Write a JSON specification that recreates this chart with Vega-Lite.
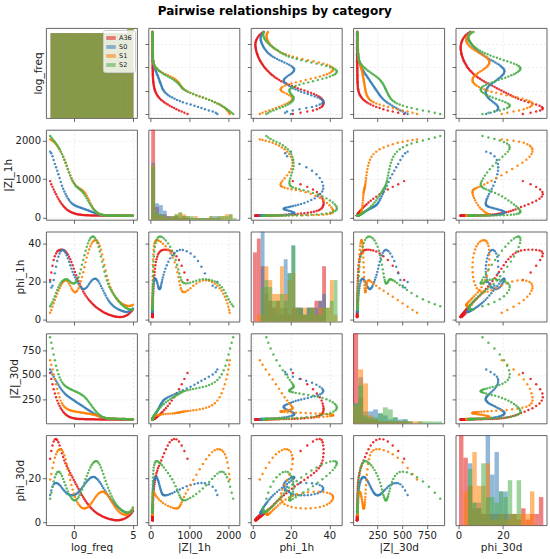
{
  "$schema": "https://vega.github.io/schema/vega-lite/v6.json",
  "title": {"text": "Pairwise relationships by category", "font": "DejaVu Sans", "fontSize": 12, "fontWeight": "bold", "color": "#000000", "anchor": "middle", "offset": 10},
  "padding": {"left": 2, "top": 4, "right": 4, "bottom": 3},
  "data": {"values": [
    {"g":"A36","f":-2,"z1":950,"p1":21,"z3":520,"p3":29},
    {"g":"A36","f":-1.9,"z1":870,"p1":25,"z3":460,"p3":32.5},
    {"g":"A36","f":-1.8,"z1":800,"p1":28.5,"z3":405,"p3":35},
    {"g":"A36","f":-1.7,"z1":730,"p1":31.5,"z3":355,"p3":36.8},
    {"g":"A36","f":-1.6,"z1":665,"p1":33.5,"z3":310,"p3":37.8},
    {"g":"A36","f":-1.5,"z1":605,"p1":35,"z3":272,"p3":38},
    {"g":"A36","f":-1.4,"z1":545,"p1":36,"z3":238,"p3":37.5},
    {"g":"A36","f":-1.3,"z1":490,"p1":36.5,"z3":208,"p3":36.5},
    {"g":"A36","f":-1.2,"z1":440,"p1":36.8,"z3":182,"p3":35},
    {"g":"A36","f":-1.1,"z1":392,"p1":37,"z3":160,"p3":33.3},
    {"g":"A36","f":-1,"z1":348,"p1":37,"z3":141,"p3":31.5},
    {"g":"A36","f":-0.9,"z1":308,"p1":36.8,"z3":125,"p3":29.8},
    {"g":"A36","f":-0.8,"z1":272,"p1":36.5,"z3":111,"p3":28.2},
    {"g":"A36","f":-0.7,"z1":240,"p1":36,"z3":99,"p3":26.9},
    {"g":"A36","f":-0.6,"z1":212,"p1":35.3,"z3":89,"p3":25.7},
    {"g":"A36","f":-0.5,"z1":188,"p1":34.5,"z3":81,"p3":24.6},
    {"g":"A36","f":-0.4,"z1":168,"p1":33.3,"z3":74,"p3":23.5},
    {"g":"A36","f":-0.3,"z1":150,"p1":32,"z3":68,"p3":22.5},
    {"g":"A36","f":-0.2,"z1":135,"p1":30.5,"z3":64,"p3":21.4},
    {"g":"A36","f":-0.1,"z1":122,"p1":28.8,"z3":60,"p3":20.4},
    {"g":"A36","f":0,"z1":111,"p1":27,"z3":57,"p3":19.3},
    {"g":"A36","f":0.1,"z1":102,"p1":25.2,"z3":55,"p3":18.3},
    {"g":"A36","f":0.2,"z1":94,"p1":23.5,"z3":53,"p3":17.3},
    {"g":"A36","f":0.3,"z1":87,"p1":22,"z3":52,"p3":16.3},
    {"g":"A36","f":0.4,"z1":81,"p1":20.5,"z3":51,"p3":15.3},
    {"g":"A36","f":0.5,"z1":76,"p1":19,"z3":50,"p3":14.3},
    {"g":"A36","f":0.6,"z1":72,"p1":17.6,"z3":49,"p3":13.3},
    {"g":"A36","f":0.7,"z1":68,"p1":16.3,"z3":49,"p3":12.3},
    {"g":"A36","f":0.8,"z1":65,"p1":15,"z3":49,"p3":11.4},
    {"g":"A36","f":0.9,"z1":62,"p1":13.9,"z3":48,"p3":10.5},
    {"g":"A36","f":1,"z1":60,"p1":12.9,"z3":48,"p3":9.7},
    {"g":"A36","f":1.1,"z1":58,"p1":12,"z3":48,"p3":8.9},
    {"g":"A36","f":1.2,"z1":57,"p1":11.2,"z3":48,"p3":8.2},
    {"g":"A36","f":1.3,"z1":56,"p1":10.4,"z3":47,"p3":7.5},
    {"g":"A36","f":1.4,"z1":55,"p1":9.7,"z3":47,"p3":6.9},
    {"g":"A36","f":1.5,"z1":54,"p1":9,"z3":47,"p3":6.3},
    {"g":"A36","f":1.6,"z1":53,"p1":8.4,"z3":47,"p3":5.8},
    {"g":"A36","f":1.7,"z1":52,"p1":7.8,"z3":47,"p3":5.3},
    {"g":"A36","f":1.8,"z1":52,"p1":7.2,"z3":46,"p3":4.8},
    {"g":"A36","f":1.9,"z1":51,"p1":6.7,"z3":46,"p3":4.4},
    {"g":"A36","f":2,"z1":51,"p1":6.2,"z3":46,"p3":4},
    {"g":"A36","f":2.1,"z1":50,"p1":5.7,"z3":46,"p3":3.7},
    {"g":"A36","f":2.2,"z1":50,"p1":5.3,"z3":46,"p3":3.4},
    {"g":"A36","f":2.3,"z1":50,"p1":4.9,"z3":46,"p3":3.1},
    {"g":"A36","f":2.4,"z1":50,"p1":4.5,"z3":45,"p3":2.8},
    {"g":"A36","f":2.5,"z1":50,"p1":4.1,"z3":45,"p3":2.5},
    {"g":"A36","f":2.6,"z1":49,"p1":3.8,"z3":45,"p3":2.3},
    {"g":"A36","f":2.7,"z1":49,"p1":3.5,"z3":45,"p3":2.1},
    {"g":"A36","f":2.8,"z1":49,"p1":3.2,"z3":45,"p3":1.9},
    {"g":"A36","f":2.9,"z1":49,"p1":2.9,"z3":45,"p3":1.7},
    {"g":"A36","f":3,"z1":48,"p1":2.7,"z3":45,"p3":1.5},
    {"g":"A36","f":3.1,"z1":48,"p1":2.5,"z3":45,"p3":1.4},
    {"g":"A36","f":3.2,"z1":48,"p1":2.3,"z3":45,"p3":1.3},
    {"g":"A36","f":3.3,"z1":48,"p1":2.1,"z3":45,"p3":1.2},
    {"g":"A36","f":3.4,"z1":48,"p1":1.9,"z3":45,"p3":1.1},
    {"g":"A36","f":3.5,"z1":48,"p1":1.8,"z3":45,"p3":1},
    {"g":"A36","f":3.6,"z1":47,"p1":1.7,"z3":44,"p3":1},
    {"g":"A36","f":3.7,"z1":47,"p1":1.6,"z3":44,"p3":1},
    {"g":"A36","f":3.8,"z1":47,"p1":1.5,"z3":44,"p3":1},
    {"g":"A36","f":3.9,"z1":47,"p1":1.5,"z3":44,"p3":1.1},
    {"g":"A36","f":4,"z1":47,"p1":1.5,"z3":44,"p3":1.2},
    {"g":"A36","f":4.1,"z1":47,"p1":1.6,"z3":44,"p3":1.3},
    {"g":"A36","f":4.2,"z1":46,"p1":1.7,"z3":44,"p3":1.5},
    {"g":"A36","f":4.3,"z1":46,"p1":1.9,"z3":44,"p3":1.7},
    {"g":"A36","f":4.4,"z1":46,"p1":2.2,"z3":44,"p3":2},
    {"g":"A36","f":4.5,"z1":46,"p1":2.5,"z3":44,"p3":2.3},
    {"g":"A36","f":4.6,"z1":46,"p1":2.9,"z3":44,"p3":2.7},
    {"g":"A36","f":4.7,"z1":46,"p1":3.4,"z3":44,"p3":3.1},
    {"g":"A36","f":4.8,"z1":46,"p1":4,"z3":44,"p3":3.6},
    {"g":"A36","f":4.9,"z1":46,"p1":4.7,"z3":44,"p3":4.3},
    {"g":"A36","f":5,"z1":46,"p1":5.4,"z3":44,"p3":5.1},
    {"g":"S0","f":-2,"z1":1720,"p1":20,"z3":555,"p3":12.5},
    {"g":"S0","f":-1.9,"z1":1680,"p1":17,"z3":530,"p3":14.5},
    {"g":"S0","f":-1.8,"z1":1600,"p1":18,"z3":505,"p3":16.2},
    {"g":"S0","f":-1.7,"z1":1500,"p1":21,"z3":482,"p3":17.3},
    {"g":"S0","f":-1.6,"z1":1400,"p1":24.5,"z3":460,"p3":17.8},
    {"g":"S0","f":-1.5,"z1":1310,"p1":28,"z3":440,"p3":17.9},
    {"g":"S0","f":-1.4,"z1":1220,"p1":31,"z3":420,"p3":17.8},
    {"g":"S0","f":-1.3,"z1":1130,"p1":33.3,"z3":400,"p3":17.5},
    {"g":"S0","f":-1.2,"z1":1030,"p1":35,"z3":380,"p3":17},
    {"g":"S0","f":-1.1,"z1":930,"p1":36.2,"z3":362,"p3":16.4},
    {"g":"S0","f":-1,"z1":830,"p1":36.8,"z3":345,"p3":15.7},
    {"g":"S0","f":-0.9,"z1":750,"p1":36.8,"z3":330,"p3":15},
    {"g":"S0","f":-0.8,"z1":680,"p1":36.3,"z3":316,"p3":14.4},
    {"g":"S0","f":-0.7,"z1":615,"p1":35.3,"z3":304,"p3":13.8},
    {"g":"S0","f":-0.6,"z1":555,"p1":34,"z3":293,"p3":13.3},
    {"g":"S0","f":-0.5,"z1":500,"p1":32.4,"z3":283,"p3":12.9},
    {"g":"S0","f":-0.4,"z1":455,"p1":30.6,"z3":274,"p3":12.6},
    {"g":"S0","f":-0.3,"z1":415,"p1":28.8,"z3":265,"p3":12.4},
    {"g":"S0","f":-0.2,"z1":380,"p1":27,"z3":257,"p3":12.3},
    {"g":"S0","f":-0.1,"z1":355,"p1":25.3,"z3":249,"p3":12.3},
    {"g":"S0","f":0,"z1":333,"p1":23.8,"z3":241,"p3":12.4},
    {"g":"S0","f":0.1,"z1":315,"p1":22.4,"z3":233,"p3":12.6},
    {"g":"S0","f":0.2,"z1":300,"p1":21.1,"z3":225,"p3":12.9},
    {"g":"S0","f":0.3,"z1":288,"p1":20,"z3":217,"p3":13.3},
    {"g":"S0","f":0.4,"z1":276,"p1":19,"z3":209,"p3":13.8},
    {"g":"S0","f":0.5,"z1":265,"p1":18,"z3":201,"p3":14.4},
    {"g":"S0","f":0.6,"z1":254,"p1":17.2,"z3":193,"p3":15.1},
    {"g":"S0","f":0.7,"z1":243,"p1":16.6,"z3":185,"p3":15.8},
    {"g":"S0","f":0.8,"z1":232,"p1":16.3,"z3":177,"p3":16.5},
    {"g":"S0","f":0.9,"z1":221,"p1":16.3,"z3":169,"p3":17.2},
    {"g":"S0","f":1,"z1":210,"p1":16.6,"z3":161,"p3":17.9},
    {"g":"S0","f":1.1,"z1":199,"p1":17.2,"z3":153,"p3":18.6},
    {"g":"S0","f":1.2,"z1":188,"p1":18,"z3":145,"p3":19.2},
    {"g":"S0","f":1.3,"z1":176,"p1":18.9,"z3":137,"p3":19.7},
    {"g":"S0","f":1.4,"z1":164,"p1":19.8,"z3":129,"p3":20.2},
    {"g":"S0","f":1.5,"z1":152,"p1":20.6,"z3":121,"p3":20.5},
    {"g":"S0","f":1.6,"z1":140,"p1":21.2,"z3":113,"p3":20.7},
    {"g":"S0","f":1.7,"z1":128,"p1":21.6,"z3":106,"p3":20.7},
    {"g":"S0","f":1.8,"z1":116,"p1":21.7,"z3":99,"p3":20.5},
    {"g":"S0","f":1.9,"z1":104,"p1":21.5,"z3":92,"p3":20.1},
    {"g":"S0","f":2,"z1":93,"p1":21,"z3":86,"p3":19.6},
    {"g":"S0","f":2.1,"z1":84,"p1":20.2,"z3":80,"p3":19},
    {"g":"S0","f":2.2,"z1":76,"p1":19.1,"z3":75,"p3":18.3},
    {"g":"S0","f":2.3,"z1":69,"p1":17.9,"z3":71,"p3":17.5},
    {"g":"S0","f":2.4,"z1":64,"p1":16.6,"z3":67,"p3":16.6},
    {"g":"S0","f":2.5,"z1":60,"p1":15.3,"z3":64,"p3":15.7},
    {"g":"S0","f":2.6,"z1":57,"p1":14,"z3":61,"p3":14.8},
    {"g":"S0","f":2.7,"z1":55,"p1":12.8,"z3":59,"p3":13.9},
    {"g":"S0","f":2.8,"z1":54,"p1":11.6,"z3":57,"p3":13},
    {"g":"S0","f":2.9,"z1":53,"p1":10.6,"z3":56,"p3":12.2},
    {"g":"S0","f":3,"z1":52,"p1":9.7,"z3":55,"p3":11.4},
    {"g":"S0","f":3.1,"z1":52,"p1":8.9,"z3":54,"p3":10.6},
    {"g":"S0","f":3.2,"z1":51,"p1":8.2,"z3":53,"p3":9.9},
    {"g":"S0","f":3.3,"z1":51,"p1":7.6,"z3":53,"p3":9.2},
    {"g":"S0","f":3.4,"z1":51,"p1":7.1,"z3":52,"p3":8.6},
    {"g":"S0","f":3.5,"z1":50,"p1":6.6,"z3":52,"p3":8},
    {"g":"S0","f":3.6,"z1":50,"p1":6.2,"z3":51,"p3":7.5},
    {"g":"S0","f":3.7,"z1":50,"p1":5.8,"z3":51,"p3":7},
    {"g":"S0","f":3.8,"z1":50,"p1":5.5,"z3":50,"p3":6.5},
    {"g":"S0","f":3.9,"z1":49,"p1":5.2,"z3":50,"p3":6.1},
    {"g":"S0","f":4,"z1":49,"p1":4.9,"z3":50,"p3":5.7},
    {"g":"S0","f":4.1,"z1":49,"p1":4.7,"z3":49,"p3":5.3},
    {"g":"S0","f":4.2,"z1":49,"p1":4.5,"z3":49,"p3":5},
    {"g":"S0","f":4.3,"z1":48,"p1":4.3,"z3":49,"p3":4.7},
    {"g":"S0","f":4.4,"z1":48,"p1":4.2,"z3":48,"p3":4.4},
    {"g":"S0","f":4.5,"z1":48,"p1":4.2,"z3":48,"p3":4.2},
    {"g":"S0","f":4.6,"z1":48,"p1":4.3,"z3":48,"p3":4.1},
    {"g":"S0","f":4.7,"z1":47,"p1":4.5,"z3":47,"p3":4.1},
    {"g":"S0","f":4.8,"z1":47,"p1":4.9,"z3":47,"p3":4.3},
    {"g":"S0","f":4.9,"z1":47,"p1":5.4,"z3":47,"p3":4.7},
    {"g":"S0","f":5,"z1":47,"p1":6,"z3":47,"p3":5.3},
    {"g":"S1","f":-2,"z1":2040,"p1":3.8,"z3":650,"p3":19.5},
    {"g":"S1","f":-1.9,"z1":2025,"p1":5.2,"z3":605,"p3":22},
    {"g":"S1","f":-1.8,"z1":2005,"p1":6.9,"z3":555,"p3":24.8},
    {"g":"S1","f":-1.7,"z1":1980,"p1":8.7,"z3":505,"p3":27.3},
    {"g":"S1","f":-1.6,"z1":1950,"p1":10.5,"z3":455,"p3":29.4},
    {"g":"S1","f":-1.5,"z1":1915,"p1":12.2,"z3":405,"p3":31},
    {"g":"S1","f":-1.4,"z1":1875,"p1":13.8,"z3":358,"p3":32.2},
    {"g":"S1","f":-1.3,"z1":1830,"p1":15.3,"z3":313,"p3":32.9},
    {"g":"S1","f":-1.2,"z1":1780,"p1":16.7,"z3":272,"p3":33.3},
    {"g":"S1","f":-1.1,"z1":1720,"p1":18,"z3":238,"p3":33.3},
    {"g":"S1","f":-1,"z1":1655,"p1":19.1,"z3":210,"p3":32.9},
    {"g":"S1","f":-0.9,"z1":1585,"p1":20,"z3":190,"p3":32},
    {"g":"S1","f":-0.8,"z1":1510,"p1":20.6,"z3":175,"p3":30.6},
    {"g":"S1","f":-0.7,"z1":1430,"p1":20.9,"z3":164,"p3":28.8},
    {"g":"S1","f":-0.6,"z1":1350,"p1":20.8,"z3":156,"p3":26.6},
    {"g":"S1","f":-0.5,"z1":1265,"p1":20.2,"z3":149,"p3":24.2},
    {"g":"S1","f":-0.4,"z1":1180,"p1":19.2,"z3":143,"p3":21.7},
    {"g":"S1","f":-0.3,"z1":1100,"p1":18,"z3":139,"p3":19.3},
    {"g":"S1","f":-0.2,"z1":1025,"p1":16.7,"z3":135,"p3":17},
    {"g":"S1","f":-0.1,"z1":960,"p1":15.6,"z3":132,"p3":14.9},
    {"g":"S1","f":0,"z1":905,"p1":14.9,"z3":129,"p3":13.1},
    {"g":"S1","f":0.1,"z1":860,"p1":14.6,"z3":127,"p3":11.6},
    {"g":"S1","f":0.2,"z1":825,"p1":14.8,"z3":125,"p3":10.3},
    {"g":"S1","f":0.3,"z1":800,"p1":15.5,"z3":123,"p3":9.2},
    {"g":"S1","f":0.4,"z1":778,"p1":16.7,"z3":121,"p3":8.3},
    {"g":"S1","f":0.5,"z1":758,"p1":18.3,"z3":119,"p3":7.6},
    {"g":"S1","f":0.6,"z1":738,"p1":20.3,"z3":117,"p3":7},
    {"g":"S1","f":0.7,"z1":716,"p1":22.6,"z3":115,"p3":6.6},
    {"g":"S1","f":0.8,"z1":690,"p1":25.1,"z3":113,"p3":6.4},
    {"g":"S1","f":0.9,"z1":658,"p1":27.7,"z3":111,"p3":6.3},
    {"g":"S1","f":1,"z1":618,"p1":30.3,"z3":109,"p3":6.4},
    {"g":"S1","f":1.1,"z1":570,"p1":32.8,"z3":107,"p3":6.6},
    {"g":"S1","f":1.2,"z1":512,"p1":35.1,"z3":105,"p3":7},
    {"g":"S1","f":1.3,"z1":448,"p1":37.1,"z3":103,"p3":7.5},
    {"g":"S1","f":1.4,"z1":382,"p1":38.8,"z3":101,"p3":8.1},
    {"g":"S1","f":1.5,"z1":318,"p1":40.1,"z3":99,"p3":8.8},
    {"g":"S1","f":1.6,"z1":262,"p1":41.1,"z3":96,"p3":9.6},
    {"g":"S1","f":1.7,"z1":214,"p1":41.7,"z3":93,"p3":10.4},
    {"g":"S1","f":1.8,"z1":175,"p1":42,"z3":90,"p3":11.2},
    {"g":"S1","f":1.9,"z1":143,"p1":41.9,"z3":87,"p3":11.9},
    {"g":"S1","f":2,"z1":118,"p1":41.4,"z3":84,"p3":12.6},
    {"g":"S1","f":2.1,"z1":99,"p1":40.4,"z3":80,"p3":13.1},
    {"g":"S1","f":2.2,"z1":85,"p1":38.9,"z3":76,"p3":13.5},
    {"g":"S1","f":2.3,"z1":75,"p1":36.9,"z3":72,"p3":13.8},
    {"g":"S1","f":2.4,"z1":68,"p1":34.5,"z3":68,"p3":13.9},
    {"g":"S1","f":2.5,"z1":63,"p1":31.8,"z3":65,"p3":13.9},
    {"g":"S1","f":2.6,"z1":60,"p1":28.9,"z3":62,"p3":13.7},
    {"g":"S1","f":2.7,"z1":58,"p1":26,"z3":59,"p3":13.3},
    {"g":"S1","f":2.8,"z1":57,"p1":23.2,"z3":57,"p3":12.8},
    {"g":"S1","f":2.9,"z1":56,"p1":21,"z3":56,"p3":12.1},
    {"g":"S1","f":3,"z1":55,"p1":19,"z3":55,"p3":11.3},
    {"g":"S1","f":3.1,"z1":54,"p1":17.2,"z3":54,"p3":10.4},
    {"g":"S1","f":3.2,"z1":54,"p1":15.7,"z3":54,"p3":9.5},
    {"g":"S1","f":3.3,"z1":53,"p1":14.4,"z3":53,"p3":8.6},
    {"g":"S1","f":3.4,"z1":53,"p1":13.3,"z3":53,"p3":7.7},
    {"g":"S1","f":3.5,"z1":52,"p1":12.3,"z3":52,"p3":6.9},
    {"g":"S1","f":3.6,"z1":52,"p1":11.4,"z3":52,"p3":6.2},
    {"g":"S1","f":3.7,"z1":51,"p1":10.7,"z3":51,"p3":5.6},
    {"g":"S1","f":3.8,"z1":51,"p1":10,"z3":51,"p3":5},
    {"g":"S1","f":3.9,"z1":51,"p1":9.4,"z3":50,"p3":4.5},
    {"g":"S1","f":4,"z1":50,"p1":8.9,"z3":50,"p3":4.1},
    {"g":"S1","f":4.1,"z1":50,"p1":8.5,"z3":50,"p3":3.8},
    {"g":"S1","f":4.2,"z1":50,"p1":8.1,"z3":49,"p3":3.6},
    {"g":"S1","f":4.3,"z1":49,"p1":7.8,"z3":49,"p3":3.5},
    {"g":"S1","f":4.4,"z1":49,"p1":7.6,"z3":49,"p3":3.5},
    {"g":"S1","f":4.5,"z1":49,"p1":7.4,"z3":48,"p3":3.6},
    {"g":"S1","f":4.6,"z1":49,"p1":7.3,"z3":48,"p3":3.8},
    {"g":"S1","f":4.7,"z1":48,"p1":7.3,"z3":48,"p3":4.2},
    {"g":"S1","f":4.8,"z1":48,"p1":7.4,"z3":48,"p3":4.7},
    {"g":"S1","f":4.9,"z1":48,"p1":7.6,"z3":47,"p3":5.3},
    {"g":"S1","f":5,"z1":48,"p1":8,"z3":47,"p3":6},
    {"g":"S2","f":-2,"z1":2130,"p1":7.2,"z3":885,"p3":10.8},
    {"g":"S2","f":-1.9,"z1":2090,"p1":8.2,"z3":830,"p3":13.5},
    {"g":"S2","f":-1.8,"z1":2050,"p1":9.4,"z3":770,"p3":16.2},
    {"g":"S2","f":-1.7,"z1":2010,"p1":10.9,"z3":710,"p3":18.6},
    {"g":"S2","f":-1.6,"z1":1970,"p1":12.5,"z3":650,"p3":20.5},
    {"g":"S2","f":-1.5,"z1":1930,"p1":14.2,"z3":595,"p3":21.9},
    {"g":"S2","f":-1.4,"z1":1885,"p1":15.8,"z3":548,"p3":22.8},
    {"g":"S2","f":-1.3,"z1":1835,"p1":17.2,"z3":508,"p3":23.1},
    {"g":"S2","f":-1.2,"z1":1780,"p1":18.4,"z3":475,"p3":22.9},
    {"g":"S2","f":-1.1,"z1":1720,"p1":19.4,"z3":448,"p3":22.2},
    {"g":"S2","f":-1,"z1":1655,"p1":20.2,"z3":427,"p3":21.1},
    {"g":"S2","f":-0.9,"z1":1585,"p1":20.8,"z3":410,"p3":19.8},
    {"g":"S2","f":-0.8,"z1":1510,"p1":21.2,"z3":397,"p3":18.4},
    {"g":"S2","f":-0.7,"z1":1430,"p1":21.4,"z3":386,"p3":16.9},
    {"g":"S2","f":-0.6,"z1":1345,"p1":21.4,"z3":377,"p3":15.4},
    {"g":"S2","f":-0.5,"z1":1260,"p1":21.1,"z3":370,"p3":14.1},
    {"g":"S2","f":-0.4,"z1":1175,"p1":20.6,"z3":363,"p3":12.9},
    {"g":"S2","f":-0.3,"z1":1095,"p1":20.1,"z3":357,"p3":11.9},
    {"g":"S2","f":-0.2,"z1":1020,"p1":19.6,"z3":351,"p3":11.1},
    {"g":"S2","f":-0.1,"z1":955,"p1":19.3,"z3":345,"p3":10.5},
    {"g":"S2","f":0,"z1":900,"p1":19.2,"z3":340,"p3":10.1},
    {"g":"S2","f":0.1,"z1":855,"p1":19.4,"z3":334,"p3":10},
    {"g":"S2","f":0.2,"z1":818,"p1":20,"z3":329,"p3":10.2},
    {"g":"S2","f":0.3,"z1":790,"p1":21,"z3":323,"p3":10.7},
    {"g":"S2","f":0.4,"z1":765,"p1":22.5,"z3":317,"p3":11.4},
    {"g":"S2","f":0.5,"z1":740,"p1":24.4,"z3":311,"p3":12.4},
    {"g":"S2","f":0.6,"z1":712,"p1":26.6,"z3":304,"p3":13.6},
    {"g":"S2","f":0.7,"z1":680,"p1":29,"z3":296,"p3":15},
    {"g":"S2","f":0.8,"z1":643,"p1":31.5,"z3":287,"p3":16.5},
    {"g":"S2","f":0.9,"z1":600,"p1":34,"z3":277,"p3":18.1},
    {"g":"S2","f":1,"z1":552,"p1":36.4,"z3":265,"p3":19.6},
    {"g":"S2","f":1.1,"z1":500,"p1":38.5,"z3":252,"p3":21.1},
    {"g":"S2","f":1.2,"z1":446,"p1":40.3,"z3":237,"p3":22.5},
    {"g":"S2","f":1.3,"z1":392,"p1":41.8,"z3":221,"p3":23.8},
    {"g":"S2","f":1.4,"z1":340,"p1":42.9,"z3":204,"p3":25},
    {"g":"S2","f":1.5,"z1":292,"p1":43.6,"z3":187,"p3":26},
    {"g":"S2","f":1.6,"z1":249,"p1":43.9,"z3":170,"p3":26.8},
    {"g":"S2","f":1.7,"z1":211,"p1":43.8,"z3":154,"p3":27.4},
    {"g":"S2","f":1.8,"z1":178,"p1":43.2,"z3":139,"p3":27.8},
    {"g":"S2","f":1.9,"z1":150,"p1":42.1,"z3":125,"p3":27.9},
    {"g":"S2","f":2,"z1":127,"p1":40.5,"z3":112,"p3":27.7},
    {"g":"S2","f":2.1,"z1":107,"p1":38.4,"z3":100,"p3":27.1},
    {"g":"S2","f":2.2,"z1":91,"p1":36,"z3":90,"p3":26.2},
    {"g":"S2","f":2.3,"z1":79,"p1":33.4,"z3":81,"p3":25},
    {"g":"S2","f":2.4,"z1":70,"p1":30.7,"z3":74,"p3":23.6},
    {"g":"S2","f":2.5,"z1":64,"p1":28,"z3":68,"p3":22},
    {"g":"S2","f":2.6,"z1":60,"p1":25.4,"z3":63,"p3":20.4},
    {"g":"S2","f":2.7,"z1":58,"p1":23,"z3":60,"p3":18.8},
    {"g":"S2","f":2.8,"z1":56,"p1":20.8,"z3":58,"p3":17.3},
    {"g":"S2","f":2.9,"z1":55,"p1":18.9,"z3":56,"p3":15.8},
    {"g":"S2","f":3,"z1":54,"p1":17.5,"z3":55,"p3":14.4},
    {"g":"S2","f":3.1,"z1":53,"p1":16.3,"z3":54,"p3":13.1},
    {"g":"S2","f":3.2,"z1":53,"p1":15.2,"z3":53,"p3":11.9},
    {"g":"S2","f":3.3,"z1":52,"p1":14.2,"z3":53,"p3":10.8},
    {"g":"S2","f":3.4,"z1":52,"p1":13.2,"z3":52,"p3":9.8},
    {"g":"S2","f":3.5,"z1":51,"p1":12.3,"z3":52,"p3":8.9},
    {"g":"S2","f":3.6,"z1":51,"p1":11.4,"z3":51,"p3":8.1},
    {"g":"S2","f":3.7,"z1":51,"p1":10.6,"z3":51,"p3":7.4},
    {"g":"S2","f":3.8,"z1":50,"p1":9.8,"z3":50,"p3":6.8},
    {"g":"S2","f":3.9,"z1":50,"p1":9.1,"z3":50,"p3":6.3},
    {"g":"S2","f":4,"z1":50,"p1":8.4,"z3":50,"p3":5.8},
    {"g":"S2","f":4.1,"z1":49,"p1":7.8,"z3":49,"p3":5.4},
    {"g":"S2","f":4.2,"z1":49,"p1":7.3,"z3":49,"p3":5.1},
    {"g":"S2","f":4.3,"z1":49,"p1":6.8,"z3":49,"p3":4.8},
    {"g":"S2","f":4.4,"z1":49,"p1":6.4,"z3":48,"p3":4.6},
    {"g":"S2","f":4.5,"z1":48,"p1":6.1,"z3":48,"p3":4.5},
    {"g":"S2","f":4.6,"z1":48,"p1":5.8,"z3":48,"p3":4.5},
    {"g":"S2","f":4.7,"z1":48,"p1":5.6,"z3":48,"p3":4.7},
    {"g":"S2","f":4.8,"z1":48,"p1":5.5,"z3":47,"p3":5.1},
    {"g":"S2","f":4.9,"z1":47,"p1":5.5,"z3":47,"p3":5.8},
    {"g":"S2","f":5,"z1":47,"p1":5.6,"z3":47,"p3":6.8}
  ]},
  "columns": 5,
  "spacing": {"row": 11.8, "column": 11.4},
  "bounds": "flush",
  "resolve": {"scale": {"color": "independent"}, "legend": {"color": "independent"}},
  "concat": [
    {"mark": {"type": "bar", "opacity": 0.55, "binSpacing": 0, "clip": true},
     "encoding": {
       "x": {"field": "f", "type": "quantitative", "bin": {"step": 0.5}, "scale": {"domain": [-2.35, 5.35]}, "axis": {"values": [0, 5], "labels": false, "title": null}},
       "y": {"aggregate": "count", "type": "quantitative", "stack": null, "scale": {"domain": [0, 5.3]}, "axis": {"title": "log_freq", "labels": false, "ticks": false, "grid": false, "titlePadding": 3}},
       "color": {"field": "g", "type": "nominal", "legend": {"orient": "top-right", "title": null, "symbolType": "M-1,-0.4H1V0.4H-1Z", "symbolSize": 90, "symbolStrokeWidth": 0, "labelFont": "DejaVu Sans", "labelFontSize": 6.5, "labelColor": "#222222", "labelOffset": 3, "fillColor": "rgba(255,255,255,0.8)", "strokeColor": "#cccccc", "cornerRadius": 2, "padding": 3, "offset": 2, "rowPadding": 0}}}},
    {"mark": "circle",
     "encoding": {
       "x": {"field": "z1", "type": "quantitative", "scale": {"domain": [-60, 2290]}, "axis": {"values": [0, 1000, 2000], "labels": false, "title": null}},
       "y": {"field": "f", "type": "quantitative", "scale": {"domain": [-2.35, 5.35]}, "axis": {"values": [-2, 0, 2, 4], "labels": false, "title": null}},
       "color": {"field": "g", "type": "nominal", "legend": null}}},
    {"mark": "circle",
     "encoding": {
       "x": {"field": "p1", "type": "quantitative", "scale": {"domain": [-0.9, 46.5]}, "axis": {"values": [0, 20, 40], "labels": false, "title": null}},
       "y": {"field": "f", "type": "quantitative", "scale": {"domain": [-2.35, 5.35]}, "axis": {"values": [-2, 0, 2, 4], "labels": false, "title": null}},
       "color": {"field": "g", "type": "nominal", "legend": null}}},
    {"mark": "circle",
     "encoding": {
       "x": {"field": "z3", "type": "quantitative", "scale": {"domain": [5, 925]}, "axis": {"values": [250, 500, 750], "labels": false, "title": null}},
       "y": {"field": "f", "type": "quantitative", "scale": {"domain": [-2.35, 5.35]}, "axis": {"values": [-2, 0, 2, 4], "labels": false, "title": null}},
       "color": {"field": "g", "type": "nominal", "legend": null}}},
    {"mark": "circle",
     "encoding": {
       "x": {"field": "p3", "type": "quantitative", "scale": {"domain": [-1.3, 39.7]}, "axis": {"values": [0, 20], "labels": false, "title": null}},
       "y": {"field": "f", "type": "quantitative", "scale": {"domain": [-2.35, 5.35]}, "axis": {"values": [-2, 0, 2, 4], "labels": false, "title": null}},
       "color": {"field": "g", "type": "nominal", "legend": null}}},

    {"mark": "circle",
     "encoding": {
       "x": {"field": "f", "type": "quantitative", "scale": {"domain": [-2.35, 5.35]}, "axis": {"values": [0, 5], "labels": false, "title": null}},
       "y": {"field": "z1", "type": "quantitative", "scale": {"domain": [-60, 2290]}, "axis": {"values": [0, 1000, 2000], "title": "|Z|_1h"}},
       "color": {"field": "g", "type": "nominal", "legend": null}}},
    {"mark": {"type": "bar", "opacity": 0.55, "binSpacing": 0},
     "encoding": {
       "x": {"field": "z1", "type": "quantitative", "bin": {"maxbins": 25}, "scale": {"domain": [-60, 2290]}, "axis": {"values": [0, 1000, 2000], "labels": false, "title": null}},
       "y": {"aggregate": "count", "type": "quantitative", "stack": null, "scale": {"nice": false}, "axis": null},
       "color": {"field": "g", "type": "nominal", "legend": null}}},
    {"mark": "circle",
     "encoding": {
       "x": {"field": "p1", "type": "quantitative", "scale": {"domain": [-0.9, 46.5]}, "axis": {"values": [0, 20, 40], "labels": false, "title": null}},
       "y": {"field": "z1", "type": "quantitative", "scale": {"domain": [-60, 2290]}, "axis": {"values": [0, 1000, 2000], "labels": false, "title": null}},
       "color": {"field": "g", "type": "nominal", "legend": null}}},
    {"mark": "circle",
     "encoding": {
       "x": {"field": "z3", "type": "quantitative", "scale": {"domain": [5, 925]}, "axis": {"values": [250, 500, 750], "labels": false, "title": null}},
       "y": {"field": "z1", "type": "quantitative", "scale": {"domain": [-60, 2290]}, "axis": {"values": [0, 1000, 2000], "labels": false, "title": null}},
       "color": {"field": "g", "type": "nominal", "legend": null}}},
    {"mark": "circle",
     "encoding": {
       "x": {"field": "p3", "type": "quantitative", "scale": {"domain": [-1.3, 39.7]}, "axis": {"values": [0, 20], "labels": false, "title": null}},
       "y": {"field": "z1", "type": "quantitative", "scale": {"domain": [-60, 2290]}, "axis": {"values": [0, 1000, 2000], "labels": false, "title": null}},
       "color": {"field": "g", "type": "nominal", "legend": null}}},

    {"mark": "circle",
     "encoding": {
       "x": {"field": "f", "type": "quantitative", "scale": {"domain": [-2.35, 5.35]}, "axis": {"values": [0, 5], "labels": false, "title": null}},
       "y": {"field": "p1", "type": "quantitative", "scale": {"domain": [-0.9, 46.5]}, "axis": {"values": [0, 20, 40], "title": "phi_1h"}},
       "color": {"field": "g", "type": "nominal", "legend": null}}},
    {"mark": "circle",
     "encoding": {
       "x": {"field": "z1", "type": "quantitative", "scale": {"domain": [-60, 2290]}, "axis": {"values": [0, 1000, 2000], "labels": false, "title": null}},
       "y": {"field": "p1", "type": "quantitative", "scale": {"domain": [-0.9, 46.5]}, "axis": {"values": [0, 20, 40], "labels": false, "title": null}},
       "color": {"field": "g", "type": "nominal", "legend": null}}},
    {"mark": {"type": "bar", "opacity": 0.55, "binSpacing": 0},
     "encoding": {
       "x": {"field": "p1", "type": "quantitative", "bin": {"maxbins": 25}, "scale": {"domain": [-0.9, 46.5]}, "axis": {"values": [0, 20, 40], "labels": false, "title": null}},
       "y": {"aggregate": "count", "type": "quantitative", "stack": null, "scale": {"nice": false}, "axis": null},
       "color": {"field": "g", "type": "nominal", "legend": null}}},
    {"mark": "circle",
     "encoding": {
       "x": {"field": "z3", "type": "quantitative", "scale": {"domain": [5, 925]}, "axis": {"values": [250, 500, 750], "labels": false, "title": null}},
       "y": {"field": "p1", "type": "quantitative", "scale": {"domain": [-0.9, 46.5]}, "axis": {"values": [0, 20, 40], "labels": false, "title": null}},
       "color": {"field": "g", "type": "nominal", "legend": null}}},
    {"mark": "circle",
     "encoding": {
       "x": {"field": "p3", "type": "quantitative", "scale": {"domain": [-1.3, 39.7]}, "axis": {"values": [0, 20], "labels": false, "title": null}},
       "y": {"field": "p1", "type": "quantitative", "scale": {"domain": [-0.9, 46.5]}, "axis": {"values": [0, 20, 40], "labels": false, "title": null}},
       "color": {"field": "g", "type": "nominal", "legend": null}}},

    {"mark": "circle",
     "encoding": {
       "x": {"field": "f", "type": "quantitative", "scale": {"domain": [-2.35, 5.35]}, "axis": {"values": [0, 5], "labels": false, "title": null}},
       "y": {"field": "z3", "type": "quantitative", "scale": {"domain": [5, 925]}, "axis": {"values": [250, 500, 750], "title": "|Z|_30d"}},
       "color": {"field": "g", "type": "nominal", "legend": null}}},
    {"mark": "circle",
     "encoding": {
       "x": {"field": "z1", "type": "quantitative", "scale": {"domain": [-60, 2290]}, "axis": {"values": [0, 1000, 2000], "labels": false, "title": null}},
       "y": {"field": "z3", "type": "quantitative", "scale": {"domain": [5, 925]}, "axis": {"values": [250, 500, 750], "labels": false, "title": null}},
       "color": {"field": "g", "type": "nominal", "legend": null}}},
    {"mark": "circle",
     "encoding": {
       "x": {"field": "p1", "type": "quantitative", "scale": {"domain": [-0.9, 46.5]}, "axis": {"values": [0, 20, 40], "labels": false, "title": null}},
       "y": {"field": "z3", "type": "quantitative", "scale": {"domain": [5, 925]}, "axis": {"values": [250, 500, 750], "labels": false, "title": null}},
       "color": {"field": "g", "type": "nominal", "legend": null}}},
    {"mark": {"type": "bar", "opacity": 0.55, "binSpacing": 0},
     "encoding": {
       "x": {"field": "z3", "type": "quantitative", "bin": {"maxbins": 25}, "scale": {"domain": [5, 925]}, "axis": {"values": [250, 500, 750], "labels": false, "title": null}},
       "y": {"aggregate": "count", "type": "quantitative", "stack": null, "scale": {"nice": false}, "axis": null},
       "color": {"field": "g", "type": "nominal", "legend": null}}},
    {"mark": "circle",
     "encoding": {
       "x": {"field": "p3", "type": "quantitative", "scale": {"domain": [-1.3, 39.7]}, "axis": {"values": [0, 20], "labels": false, "title": null}},
       "y": {"field": "z3", "type": "quantitative", "scale": {"domain": [5, 925]}, "axis": {"values": [250, 500, 750], "labels": false, "title": null}},
       "color": {"field": "g", "type": "nominal", "legend": null}}},

    {"mark": "circle",
     "encoding": {
       "x": {"field": "f", "type": "quantitative", "scale": {"domain": [-2.35, 5.35]}, "axis": {"values": [0, 5], "title": "log_freq"}},
       "y": {"field": "p3", "type": "quantitative", "scale": {"domain": [-1.3, 39.7]}, "axis": {"values": [0, 20], "title": "phi_30d"}},
       "color": {"field": "g", "type": "nominal", "legend": null}}},
    {"mark": "circle",
     "encoding": {
       "x": {"field": "z1", "type": "quantitative", "scale": {"domain": [-60, 2290]}, "axis": {"values": [0, 1000, 2000], "title": "|Z|_1h"}},
       "y": {"field": "p3", "type": "quantitative", "scale": {"domain": [-1.3, 39.7]}, "axis": {"values": [0, 20], "labels": false, "title": null}},
       "color": {"field": "g", "type": "nominal", "legend": null}}},
    {"mark": "circle",
     "encoding": {
       "x": {"field": "p1", "type": "quantitative", "scale": {"domain": [-0.9, 46.5]}, "axis": {"values": [0, 20, 40], "title": "phi_1h"}},
       "y": {"field": "p3", "type": "quantitative", "scale": {"domain": [-1.3, 39.7]}, "axis": {"values": [0, 20], "labels": false, "title": null}},
       "color": {"field": "g", "type": "nominal", "legend": null}}},
    {"mark": "circle",
     "encoding": {
       "x": {"field": "z3", "type": "quantitative", "scale": {"domain": [5, 925]}, "axis": {"values": [250, 500, 750], "title": "|Z|_30d"}},
       "y": {"field": "p3", "type": "quantitative", "scale": {"domain": [-1.3, 39.7]}, "axis": {"values": [0, 20], "labels": false, "title": null}},
       "color": {"field": "g", "type": "nominal", "legend": null}}},
    {"mark": {"type": "bar", "opacity": 0.55, "binSpacing": 0},
     "encoding": {
       "x": {"field": "p3", "type": "quantitative", "bin": {"maxbins": 25}, "scale": {"domain": [-1.3, 39.7]}, "axis": {"values": [0, 20], "title": "phi_30d"}},
       "y": {"aggregate": "count", "type": "quantitative", "stack": null, "scale": {"nice": false}, "axis": null},
       "color": {"field": "g", "type": "nominal", "legend": null}}}
  ],
  "config": {
    "font": "DejaVu Sans",
    "view": {"stroke": "#555555", "strokeWidth": 0.9, "continuousWidth": 91, "continuousHeight": 90},
    "axis": {"labelFont": "DejaVu Sans", "titleFont": "DejaVu Sans", "labelFontSize": 10, "titleFontSize": 10.5, "titleFontWeight": "normal", "labelColor": "#222222", "titleColor": "#222222", "tickColor": "#444444", "tickSize": 3.5, "tickWidth": 0.8, "domain": false, "gridColor": "#bbbbbb", "gridDash": [2, 2], "gridOpacity": 0.6, "gridWidth": 0.5, "labelPadding": 2, "titlePadding": 2, "labelFlush": false, "labelOverlap": false, "format": "d"},
    "circle": {"size": 6, "opacity": 0.9},
    "range": {"category": ["#e41a1c", "#377eb8", "#ff7f00", "#4daf4a"]}
  }
}
